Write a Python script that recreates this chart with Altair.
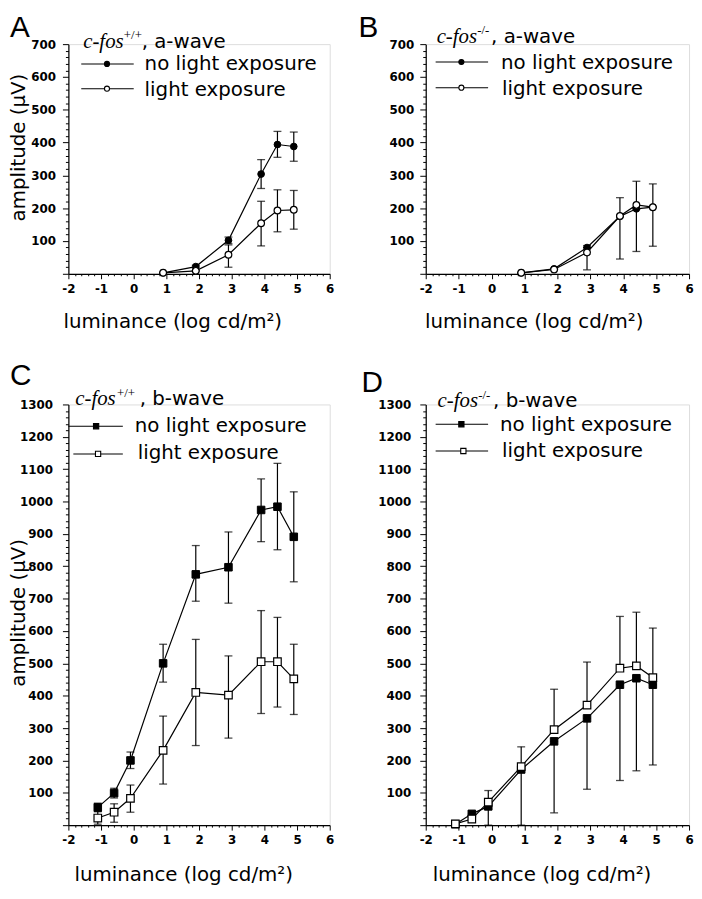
import altair as alt
import pandas as pd

# ---------------- data ----------------
X_AB = [0.9, 1.9, 2.9, 3.9, 4.4, 4.9]
X_CD = [-1.1, -0.6, -0.1, 0.9, 1.9, 2.9, 3.9, 4.4, 4.9]

A_NO = [3, 22, 102, 304, 394, 388]
A_NO_LO = [3, 18, 92, 260, 355, 343]
A_NO_HI = [3, 26, 112, 348, 434, 432]
A_LI = [3, 9, 58, 154, 193, 195]
A_LI_LO = [3, 9, 20, 85, 128, 136]
A_LI_HI = [3, 9, 88, 221, 256, 254]

B_NO = [3, 15, 80, 175, 198, 203]
B_NO_LO = [3, 15, 80, 175, 198, 203]
B_NO_HI = [3, 15, 80, 175, 198, 203]
B_LI = [3, 13, 65, 176, 210, 203]
B_LI_LO = [3, 13, 12, 45, 68, 84]
B_LI_HI = [3, 13, 86, 232, 282, 274]

C_NO = [55, 99, 200, 500, 775, 797, 974, 984, 891]
C_NO_LO = [42, 84, 175, 442, 692, 686, 876, 851, 752]
C_NO_HI = [68, 114, 226, 559, 864, 906, 1070, 1118, 1030]
C_LI = [22, 40, 83, 231, 410, 402, 505, 505, 452]
C_LI_LO = [3, 9, 40, 127, 246, 269, 345, 365, 342]
C_LI_HI = [42, 66, 124, 337, 574, 523, 663, 642, 559]

D_NO = [3, 35, 58, 172, 259, 330, 434, 454, 434]
D_NO_LO = [3, 30, 0, 0, 38, 111, 138, 168, 186]
D_NO_HI = [3, 35, 58, 172, 259, 330, 434, 454, 434]
D_LI = [4, 19, 71, 181, 295, 371, 485, 492, 456]
D_LI_LO = [4, 19, 71, 181, 295, 371, 485, 492, 456]
D_LI_HI = [4, 25, 107, 242, 420, 504, 645, 658, 609]

SERIES = ["no light exposure", "light exposure"]
X_TITLE = "luminance (log cd/m\u00b2)"
Y_TITLE = "amplitude (\u00b5V)"

SANS = "DejaVu Sans"
SERIF = "Liberation Serif"


def make_df(xs, no, no_lo, no_hi, li, li_lo, li_hi):
    rows = []
    for i, x in enumerate(xs):
        rows.append({"x": x, "y": no[i], "lo": no_lo[i], "hi": no_hi[i], "s": SERIES[0]})
    for i, x in enumerate(xs):
        rows.append({"x": x, "y": li[i], "lo": li_lo[i], "hi": li_hi[i], "s": SERIES[1]})
    return pd.DataFrame(rows)


ONE = pd.DataFrame({"k": [0]})


def txt(text, x, y, size=20, font=SANS, style="normal", weight="normal", baseline="alphabetic"):
    return alt.Chart(ONE).mark_text(
        text=text, font=font, fontSize=size, fontStyle=style, fontWeight=weight,
        align="left", baseline=baseline, color="black"
    ).encode(x=alt.value(x), y=alt.value(y))


def panel(df, ymax, shape, letter, sup, wave, ytitle, W, H, P):
    xvals = [round(-2 + 0.2 * i, 1) for i in range(41)]
    yvals = list(range(0, ymax + 1, 20))
    xaxis = alt.Axis(
        values=xvals,
        labelExpr="abs(datum.value - round(datum.value)) < 0.001 ? '' + round(datum.value) : ''",
        tickSize={"condition": {"test": "abs(datum.value - round(datum.value)) < 0.001", "value": 5}, "value": 2},
        tickColor="black", tickWidth=1, domainColor="black", domainWidth=1.2,
        labelFont=SANS, labelFontWeight="bold", labelFontSize=12, labelColor="black",
        labelPadding=5, labelFlush=False, labelOverlap=False, grid=False,
        title=X_TITLE, titleFont=SANS, titleFontSize=20, titleFontWeight="normal",
        titleColor="black", titleX=P["xtx"], titleY=P["xty"], titleAlign="center",
        titleBaseline="alphabetic",
    )
    yaxis_kw = dict(
        values=yvals,
        labelExpr="datum.value % 100 === 0 && datum.value > 0 ? '' + datum.value : ''",
        tickSize={"condition": {"test": "datum.value % 100 === 0", "value": 6}, "value": 3},
        tickColor="black", tickWidth=1, domainColor="black", domainWidth=1.2,
        labelFont=SANS, labelFontWeight="bold", labelFontSize=12, labelColor="black",
        labelPadding=P["lpad"], labelOverlap=False, labelFlush=False, grid=False,
    )
    if ytitle:
        yaxis = alt.Axis(
            title=Y_TITLE, titleFont=SANS, titleFontSize=20, titleFontWeight="normal",
            titleColor="black", titleX=P["ytx"], titleY=P["yty"], titleAngle=270,
            titleAlign="center", titleBaseline="middle", **yaxis_kw
        )
    else:
        yaxis = alt.Axis(title=None, **yaxis_kw)

    xs = alt.Scale(domain=[-2, 6], nice=False, zero=False)
    ys = alt.Scale(domain=[0, ymax], nice=False, zero=False)

    def X():
        return alt.X("x:Q", scale=xs, axis=xaxis)

    def Y(f):
        return alt.Y(f, type="quantitative", scale=ys, axis=yaxis)

    base = alt.Chart(df)
    line = base.mark_line(color="black", strokeWidth=1.2).encode(x=X(), y=Y("y"), detail="s:N")
    err = base.mark_rule(color="black", strokeWidth=1.2).encode(x=X(), y=Y("lo"), y2="hi:Q")
    caps = base.transform_fold(["lo", "hi"], as_=["k", "v"]).mark_tick(
        orient="horizontal", size=8, thickness=1.3, color="black"
    ).encode(x=X(), y=Y("v"))
    size = 46 if shape == "circle" else 58
    filled = base.transform_filter(alt.datum.s == SERIES[0]).mark_point(
        shape=shape, size=size, filled=True, fill="black", stroke="black", strokeWidth=1, opacity=1
    ).encode(x=X(), y=Y("y"))
    opened = base.transform_filter(alt.datum.s == SERIES[1]).mark_point(
        shape=shape, size=size, filled=True, fill="white", stroke="black", strokeWidth=1.2, opacity=1
    ).encode(x=X(), y=Y("y"))

    lsize = 26 if shape == "circle" else 28
    leg = []
    for r, (ry, lx1, lx2, mx, tx, tb) in enumerate(P["rows"]):
        leg.append(alt.Chart(ONE).mark_rule(color="black", strokeWidth=1.1).encode(
            x=alt.value(lx1), x2=alt.value(lx2), y=alt.value(ry)))
        leg.append(alt.Chart(ONE).mark_point(
            shape=shape, size=lsize, filled=True, fill="black" if r == 0 else "white",
            stroke="black", strokeWidth=1.1, opacity=1).encode(x=alt.value(mx), y=alt.value(ry)))
        leg.append(txt(SERIES[r], tx, tb, size=20))

    hx, hy = P["head"]
    head = [
        txt("c-fos", hx, hy, size=21, font=SERIF, style="italic"),
        txt(sup, P["supx"], hy - 9, size=13, font=SERIF),
        txt(wave, P["wavex"], hy, size=20),
    ]
    lx, ly = P["letter"]
    let = txt(letter, lx, ly, size=30, font="Liberation Sans")

    return alt.layer(line, err, caps, filled, opened, *leg, *head, let).properties(width=W, height=H)


PA = dict(letter=(-59, -7), head=(15, 4), supx=56, wavex=74,
          rows=[(20, 13, 66, 39, 77, 26), (45, 13, 66, 39, 77, 52)],
          lpad=7, ytx=-50, yty=104, xtx=105, xty=54)
PB = dict(letter=(-68, -7), head=(11, -1), supx=52, wavex=66,
          rows=[(18, 10, 63, 36, 76, 25), (44, 10, 63, 36, 77, 51)],
          lpad=6, xtx=109, xty=54)
PC = dict(letter=(-59, -20), head=(7, 1), supx=49, wavex=72,
          rows=[(22, 0, 55, 28, 67, 28), (50, 5, 55, 30, 70, 55)],
          lpad=10, ytx=-50, yty=210, xtx=116, xty=56)
PD = dict(letter=(-65, -13), head=(12, 3), supx=53, wavex=68,
          rows=[(20, 10, 63, 36, 75, 27), (47, 10, 63, 38, 77, 53)],
          lpad=9, xtx=117, xty=56)

chA = panel(make_df(X_AB, A_NO, A_NO_LO, A_NO_HI, A_LI, A_LI_LO, A_LI_HI), 700, "circle",
            "A", "+/+", ", a-wave", True, 264, 232, PA)
chB = panel(make_df(X_AB, B_NO, B_NO_LO, B_NO_HI, B_LI, B_LI_LO, B_LI_HI), 700, "circle",
            "B", "-/-", ", a-wave", False, 266, 232, PB)
chC = panel(make_df(X_CD, C_NO, C_NO_LO, C_NO_HI, C_LI, C_LI_LO, C_LI_HI), 1300, "square",
            "C", "+/+", ", b-wave", True, 264, 425, PC)
chD = panel(make_df(X_CD, D_NO, D_NO_LO, D_NO_HI, D_LI, D_LI_LO, D_LI_HI), 1300, "square",
            "D", "-/-", ", b-wave", False, 266, 425, PD)

chart = alt.concat(
    chA, chB, chC, chD, columns=2, spacing={"row": 132, "column": 97}, bounds="flush"
).properties(padding=0).configure_view(stroke="transparent").configure(background="white")

chart.save("out.html", embed_options={"renderer": "svg", "actions": False})
